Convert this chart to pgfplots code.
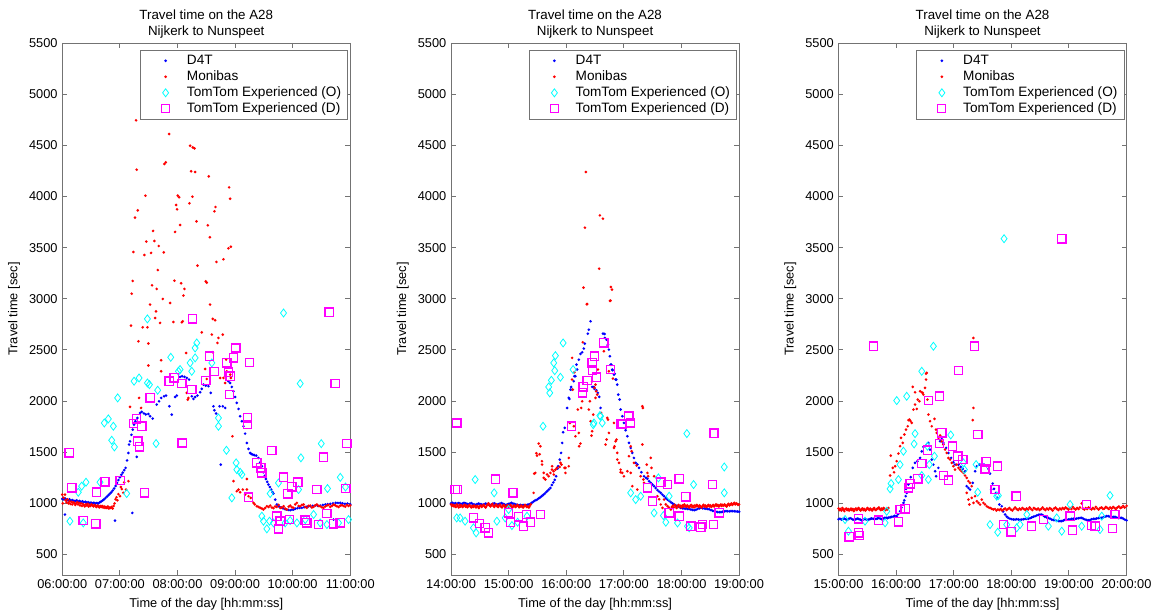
\documentclass[border=0pt]{standalone}
\usepackage{fontspec}
\setmainfont{Liberation Sans}
\usepackage{pgfplots}
\pgfplotsset{compat=1.18}
\definecolor{axgray}{gray}{0.45}
\definecolor{myblue}{RGB}{0,0,255}
\definecolor{myred}{RGB}{255,0,0}
\definecolor{mycyan}{RGB}{0,255,255}
\definecolor{mymag}{RGB}{255,0,255}
\newcommand{\fs}{\fontsize{9.6}{12.2}\selectfont}
\newcommand{\ft}{\fontsize{10}{12.2}\selectfont}
\newcommand{\fl}{\fontsize{10.2}{12.2}\selectfont}
\pgfdeclareplotmark{mdia}{\pgfsetstrokecolor{mycyan}\pgfsetlinewidth{0.6pt}\pgfpathmoveto{\pgfqpoint{0pt}{3pt}}\pgfpathlineto{\pgfqpoint{2.25pt}{0pt}}\pgfpathlineto{\pgfqpoint{0pt}{-3pt}}\pgfpathlineto{\pgfqpoint{-2.25pt}{0pt}}\pgfpathclose\pgfusepathqstroke}
\pgfdeclareplotmark{mbdot}{\pgfsetfillcolor{myblue}\pgfpathcircle{\pgfpointorigin}{1.1pt}\pgfusepathqfill}
\pgfdeclareplotmark{mrdot}{\pgfsetfillcolor{myred}\pgfpathcircle{\pgfpointorigin}{1.1pt}\pgfusepathqfill}
\pgfplotsset{
  legcode/.style={legend image code/.code={\path (0cm,0cm) (1.03cm,0cm); \draw[mark repeat=2,mark phase=2,##1] plot coordinates {(0cm,0cm)(0.55cm,0cm)(1.03cm,0cm)};}},
  d4t/.style={only marks, mark=mbdot, color=myblue, legcode},
  mon/.style={only marks, mark=mrdot, color=myred, legcode},
  tto/.style={only marks, mark=mdia, color=mycyan, legcode},
  ttd/.style={only marks, mark=none, color=mymag,
    nodes near coords={}, nodes near coords align=center,
    every node near coord/.style={draw=mymag, line width=1pt, minimum size=6.2pt, inner sep=0pt, anchor=center, shape=rectangle},
    legend image code/.code={\path (0pt,0pt) (29.2pt,0pt); \draw[mymag,line width=1pt] (12.6pt,-3pt) rectangle (18.6pt,3pt);}},
  panel/.style={
    scale only axis, width=216pt, height=399pt,
    xmin=0, xmax=300, ymin=300, ymax=5500,
    xtick={0,60,...,300}, ytick={500,1000,...,5500},
    tick align=inside, major tick length=3.6pt,
    axis line style={axgray, line width=0.7pt},
    every tick/.style={axgray, line width=0.7pt},
    tick label style={font=\fs, text=black},
    /pgf/number format/assume math mode=true,
    /pgf/number format/1000 sep={},
    scaled y ticks=false,
    title={Travel time on the A28\\Nijkerk to Nunspeet},
    title style={at={(0.5,1)}, anchor=south, yshift=-6pt, align=center, font=\ft},
    xlabel={Time of the day [hh:mm:ss]},
    ylabel={Travel time [sec]},
    label style={font=\fs},
    legend cell align=left,
    legend style={at={(1,1)}, anchor=north east, xshift=-1.5pt, yshift=-5pt,
      draw=axgray, line width=0.7pt, font=\fl, inner xsep=3pt, inner ysep=2pt,
      nodes={inner xsep=2pt, inner ysep=1.5pt, text height=7pt, text depth=2pt}},
  }
}
\begin{document}
\begin{tikzpicture}
\useasboundingbox (0,0) rectangle (868.5pt,458.25pt);
% ---------------- Panel 1 ----------------
\begin{axis}[panel, at={(46.7pt,27pt)}, anchor=south west,
  xticklabels={06:00:00,07:00:00,08:00:00,09:00:00,10:00:00,11:00:00}]
\addplot[d4t] coordinates {
(0,1044)(1.5,1040)(3,1047)(4.5,1036)(6,1030)(7.5,1040)(9,1028)(10.5,1032)(12,1026)(13.5,1022)(15,1030)(16.5,1018)(18,1024)(19.5,1015)(21,1020)(22.5,1012)(24,1016)(25.5,1008)(27,1012)(28.5,1004)(30,1008)(31.5,1000)(33,1006)(34.5,998)(36,1004)(37.5,1000)(39,1010)(40.5,1018)(42,1028)(43.5,1040)(45,1052)(46.5,1066)(48,1080)(49.5,1094)(51,1108)(52.5,1125)(54,1145)(55.5,1170)(57,1200)(58.5,1228)(60,1255)(61.5,1280)(63,1300)(64.5,1325)(66,1347)(67.5,1420)(68.9,1493)(69.6,1575)(70.6,1607)(72,1670)(73.4,1721)(74.8,1770)(76.2,1803)(78.2,1835)(81,1884)(82.8,1894)(85,1880)(87,1870)
(2.8,891)(54.9,832)(73,907)(77.6,1454)
(89.7,1874)(91.5,1852)(94.2,1829)(98.4,1966)(100.8,1998)(103,2031)(106,2047)(108.1,2054)(111.6,1949)(114,1868)(117.5,2040)(119.3,2054)(122.7,2236)(124.8,2243)(127.3,2236)(129.7,2226)(132.1,2210)(134.9,2047)(136.6,2021)(138.4,2040)(140.8,2054)(143.6,2086)(145.3,2119)(147.1,2161)(149.5,2151)(152.3,2145)(154.7,2080)(157.5,1949)(158.5,1910)(160.3,1878)(163.8,1949)(165.1,1379)(167.2,1949)(169.7,1933)(173.1,2194)(174.9,2177)(176.6,2138)(178.4,2096)(180.1,2040)(181.8,1982)(183.6,1923)(185.3,1852)(187.1,1803)(188.8,1754)(190.5,1682)(192.3,1591)(194,1532)(195.7,1493)(197,1482)(198.5,1477)(200,1472)(202,1467)(204.4,1444)(206.2,1402)(207.9,1363)(209.6,1304)(211,1270)(212.1,1239)(213.5,1210)(214.8,1184)(216.2,1160)(217.6,1135)(219,1110)(220,1096)(221.8,1037)(223.5,989)(225,975)(226.3,966)(228,960)(229.8,953)(231.5,945)(233.3,940)(235.5,936)(237.5,933)(239.3,938)(241,940)(243,948)(245.1,953)(247.4,955)(249.6,956)(252,962)(254.1,966)(256.2,970)(258.3,972)(261,976)(263.5,979)(266,977)(268.8,979)(271.5,985)(274,989)(276.5,992)(279.2,995)(282,1000)(284.8,1005)(287.2,1004)(289.6,1005)(292,1000)(294.5,996)(297,998)(300,990)(282.6,842)
};
\addlegendentry{D4T}
\addplot[mon] coordinates {
(0,1085)(0.5,1000)(1.5,1055)(2.8,1086)(3.5,1030)(4.5,1010)(5.5,1040)(6.5,1000)(7.5,1020)(8.5,995)(9.5,1015)(10.5,990)(11.5,1010)(12.5,1005)(13.5,985)(14.5,1000)(15.5,1012)(16.5,990)(17.5,1005)(18.5,980)(19.5,1000)(20.5,975)(21.5,995)(22.5,985)(23.5,970)(24.5,990)(25.5,980)(26.5,995)(27.5,970)(28.5,985)(29.5,975)(30.5,990)(31.5,980)(32.5,970)(33.5,985)(34.5,975)(35.5,965)(36.5,980)(37.5,970)(38.5,960)(39.5,975)(40.5,965)(41.5,975)(42.5,960)(43.5,970)(44.5,955)(45.5,965)(46.5,955)(47.5,970)(48.5,950)(49.5,960)(50.5,955)(51.5,965)(52.5,950)(53.5,975)(54.5,1000)(55.5,1040)(56.5,1060)(57.5,1030)(58.5,1090)(60.2,1070)(61,1160)(62,1140)(63.6,1103)(64.5,1205)(66.4,1135)(68.9,1217)
(70.6,1943)(71.6,2738)(72.3,3050)(73.4,3174)(74.1,3457)(75.8,3793)(76.9,4744)(77.5,4262)(78.6,3864)(79.3,2584)(80,2031)(82.1,1933)(83.8,2721)(85.5,3428)(86.6,4008)(87.6,3559)(88.7,2721)(89.7,2562)(89.7,2347)(91.5,2943)(92.5,3448)(93.5,3132)(94.6,3663)(96,3565)(96.7,2812)(97.7,2877)(98.4,3096)(99.5,3281)(100.5,3516)(101.9,2764)(103,2399)(103,2291)(104.7,2998)(105.7,3454)(106.4,4317)(107.8,4333)(111.3,4610)(112.3,2959)(115.8,2773)(116.8,3177)(117.5,3653)(118.6,3917)(119.6,3874)(120.3,4008)(121.7,3992)(122.7,3721)(123.8,3151)(124.5,2770)(125.5,2780)(126.2,3031)(127.3,3096)(129,2470)(129.7,2080)(130.7,2014)(131.4,2031)(132.5,3933)(133.2,4496)(134.2,4246)(135.6,3998)(135.9,4480)(137.7,4470)(138.4,4239)(139.8,3757)(140.8,3324)(145.3,2672)(148.8,2314)(149.5,3170)(150.5,3158)(150.5,2216)(151.6,3718)(152.6,4197)(153.7,3601)(154,2943)(155.8,2650)(156.8,2803)(156.8,2477)(158.5,3855)(159.2,2790)(159.6,3897)(160.6,3360)(161.7,2568)(162.7,2617)(164.4,2226)(167.2,2650)(167.9,2226)(167.9,3386)(169.7,2177)(170.7,2405)(171.4,2291)(173.1,3493)(173.8,4089)(174.9,3978)(175,2259)(175.6,3509)(175.6,2226)(177.3,1656)(178.4,1217)(181.8,1119)(183.6,1135)(185.3,1109)(188.1,1135)(190.5,1086)(192.3,1135)(192.3,1239)(194,1070)(196.4,1054)(199.2,1005)
(200.5,990)(202.7,972)(204.5,965)(206.2,956)(208,950)(209.6,940)(211.3,955)(213.1,972)(215,965)(216.6,979)(218.3,960)(220,953)(221.7,970)(223.5,966)(225.3,985)(227,956)(228.8,960)(230.5,972)(232.2,950)(234,940)(235.8,968)(237.5,979)(239.2,962)(240.9,956)(242.7,990)(244.4,1005)(246.2,975)(247.9,972)(249.7,985)(251.4,989)(253.1,965)(254.8,956)(256.5,975)(258.3,979)(260,960)(261.8,966)(263.5,980)(265.3,989)(267,975)(268.7,972)(270.5,962)(272.2,956)(274,970)(275.7,979)(277.4,985)(279.2,966)(281,975)(282.6,989)(284.4,980)(286.1,972)(287.9,965)(289.6,979)(291.3,982)(293,975)(294.8,968)(296.5,985)(298.2,975)(300,980)
};
\addlegendentry{Monibas}
\addplot[tto] coordinates {
(8,826)(16.7,1109)(20.2,1168)(21.9,809)(24.7,1207)(39.3,1207)(43.8,1786)(48,1826)(51.5,1617)(53.2,1754)(54.3,1552)(57.7,2031)(67.1,1096)(74.8,2194)(80,2226)(88.7,2803)(88.7,2177)(90.8,2161)(97.7,1585)(99.4,2106)(113,2428)(121,2291)(122.7,2308)(133.2,2373)(134.9,2291)(138.4,2422)(138.4,2519)(140.1,2568)(155.8,2373)(162.7,1835)(162.7,1754)(171,1519)(176.6,1054)(181.1,1396)(181.8,1330)(185.3,1304)(187.1,1282)(207.9,875)(209.6,826)(213.1,751)(215.9,826)(216.6,1096)(220,809)(225.2,1200)(230.5,2861)(232.2,809)(237.4,832)(244.4,809)(246.1,1135)(247.9,2171)(248.6,1445)(253.1,842)(261.8,891)(268.7,809)(269.8,1584)(275.7,793)(276.3,1145)(287.8,809)(289.6,1255)(295,1160)(298.2,842)
};
\addlegendentry{TomTom Experienced (O)}
\addplot[ttd] coordinates {
(7.3,1493)(10.1,1151)(21.9,832)(35.1,800)(35.8,1109)(44.5,1210)(60.2,1223)(74.1,1780)(77.5,1826)(78.6,1607)(80.3,1552)(82.8,1754)(85.5,1103)(91.5,2031)(111.3,2194)(116.5,2226)(124.5,2171)(124.9,1590)(134.9,2112)(135.6,2803)(149.5,2203)(153.3,2438)(158.2,2291)(171.4,2373)(173.1,2282)(174.2,2063)(174.9,2243)(178.4,2422)(180.8,2519)(193,1835)(193,1770)(194,1060)(195,2379)(202.7,1396)(206.9,1347)(207.9,1298)(218.3,1516)(223.5,875)(225.3,751)(227,826)(230.5,1255)(235,1093)(236.7,842)(239.2,1162)(245.4,1207)(253,835)(254.8,809)(265.2,1135)(267,793)(272.2,1451)(275.7,901)(278.1,2868)(282.6,800)(284.4,2171)(289.6,809)(295.5,1145)(296.5,1584)
};
\addlegendentry{TomTom Experienced (D)}
\end{axis}
% ---------------- Panel 2 ----------------
\begin{axis}[panel, at={(338.3pt,27pt)}, anchor=south west,
  xticklabels={14:00:00,15:00:00,16:00:00,17:00:00,18:00:00,19:00:00}]
\addplot[d4t] coordinates {
(0,1000)(1.5,1005)(3,998)(4.5,1002)(6,996)(7.5,1003)(9,1000)(10.5,994)(12,998)(13.5,1005)(15,1000)(16.5,996)(18,990)(19.5,998)(21,1003)(22.5,995)(24,990)(25.5,985)(27,992)(28.5,998)(30,995)(31.5,990)(33,986)(34.5,992)(36,998)(37.5,994)(39,988)(40.5,984)(42,990)(43.5,996)(45,1000)(46.5,994)(48,988)(49.5,992)(51,998)(52.5,1002)(54,996)(55.5,990)(57,984)(58.5,990)(60,995)(61.5,1000)(63,1005)(64.5,998)(66,994)(67.5,990)(69,986)(70.5,982)(72,986)(73.5,980)(75,984)(76.5,978)(78,982)(79.5,986)(81,990)(82.5,996)(84,1005)(85.5,1015)(87,1025)(88.5,1033)(90,1040)(91.5,1050)(93,1060)(94.5,1072)(96,1083)(97.5,1095)(99,1110)(100.5,1122)(102,1136)(103.5,1151)(105,1180)(106.5,1205)(108,1230)(109.5,1265)(111,1340)(111.5,1363)(113.2,1428)(114.6,1493)(115.7,1591)(116.7,1695)(118.4,1738)(120.9,1933)(122.6,2031)(123.3,2021)(124.4,2112)(125.1,2138)(126.1,2112)(127.8,2194)(128.5,2243)(129.6,2243)(130.6,2356)(131.3,2308)(133.1,2405)(134.8,2461)(136.6,2477)(138.3,2513)(139.3,2562)(142.5,2659)(143.5,2698)(145.3,2780)(147,2138)(148.8,2138)(149.4,2119)(151.5,2106)(152.9,2080)(154.3,2041)(155.7,1933)(158.2,2659)(159.9,2656)(160.3,2617)(162,2600)(162.7,2536)(163.4,2552)(164.4,2503)(165.5,2438)(166.2,2356)(166.9,2357)(167.9,2308)(168.3,2301)(169.7,2259)(170.4,2268)(171.4,2210)(172.1,2210)(173.1,2161)(174.2,2063)(175.6,2015)(176.6,1917)(178.4,1852)(180.1,1786)(181.8,1715)(183.6,1656)(185.3,1591)(187.1,1542)(188.8,1493)(190.5,1444)(192.3,1396)(194,1380)(195.8,1347)(198.2,1304)(201,1265)(203,1250)(204.5,1240)(206.3,1217)(208,1200)(209.7,1185)(211.5,1168)(213.2,1150)(215,1130)(216.7,1115)(218.4,1103)(220.2,1085)(221.9,1070)(223.6,1052)(225.4,1037)(227.2,1025)(228.9,1012)(230.6,1000)(232.4,989)(234.1,980)(235.8,972)(237.6,965)(239.3,956)(241,952)(242.8,950)(244.5,948)(246.3,946)(248,944)(249.8,940)(251.5,936)(253.3,933)(255,938)(256.7,945)(258.5,950)(260.2,956)(262,952)(263.7,950)(265.4,948)(267.2,946)(268.9,942)(270.7,935)(272.4,928)(274.2,923)(275.9,918)(277.6,915)(279.4,914)(281.2,914)(282.9,918)(284.6,922)(286.4,924)(288.1,923)(289.9,922)(291.6,924)(293.3,924)(295.1,923)(296.8,921)(298.5,920)(300,918)
};
\addlegendentry{D4T}
\addplot[mon] coordinates {
(0,990)(1,975)(2,985)(3,970)(4,980)(5,965)(6,990)(7,975)(8,960)(9,985)(10,970)(11,980)(12,965)(13,975)(14,985)(15,968)(16,978)(17,962)(18,975)(19,985)(20,970)(21,960)(22,975)(23,965)(24,980)(25,970)(26,960)(27,975)(28,968)(29,955)(30,972)(31,980)(32,965)(33,975)(34,985)(35,970)(36,960)(37,975)(38,990)(39,1000)(40,980)(41,970)(42,985)(43,995)(44,975)(45,965)(46,980)(47,990)(48,972)(49,965)(50,978)(51,988)(52,970)(53,960)(54,975)(55,985)(56,970)(57,962)(58,975)(59,982)(60,968)(61,975)(62,985)(63,970)(64,960)(65,975)(66,980)(67,965)(68,972)(69,985)(70,975)(71,962)(72,970)(73,980)(74,968)(75,960)(76,972)(77,985)(78,975)(79,965)(80,970)(81,960)(82,975)(83,990)
(86,1103)(86.7,1291)(87.8,1298)(88.8,1490)(89.5,1467)(91.3,1585)(92.3,1480)(93,1558)(94.7,1412)(94.8,1379)(96.5,1249)(96.5,1298)(98.2,1233)(100,1282)(101.7,1265)(103.5,1298)(105.2,1363)(105.2,1330)(106.9,1314)(107,1282)(108.7,1330)(110.4,1347)(113.2,1356)(113.9,1396)(115,1379)(118.1,1347)(119.1,1298)(119.2,1347)(122.6,1363)(122.6,1444)(123.7,1786)(126.1,2422)(126.1,2210)(126.8,2112)(127.9,1754)(128.5,2282)(129.6,1656)(132,1917)(133.1,1689)(133.4,1558)(134.8,1585)(135.5,1933)(136.6,1998)(137.2,2575)(138,3109)(139.4,3695)(140.4,4239)(141.5,2946)(141.8,2949)(143.5,1917)(144.6,1998)(145.3,1803)(146.3,1663)(147,1705)(147,2194)(148.1,1868)(149.4,2129)(150.5,2031)(150.5,2161)(151.2,2096)(152.2,2063)(153,2308)(154.3,3294)(155,3815)(156.4,1884)(158.2,3783)(159.2,2487)(160.9,1575)(162,1624)(162.7,1835)(163.5,1819)(164.4,1689)(164.4,2291)(165.5,2979)(166,2982)(166.5,3115)(167.6,3089)(168.6,2220)(169.7,1786)(169.7,1542)(170.3,1558)(171.4,1607)(172.4,1624)(173.1,1493)(173.2,1428)(174.9,1396)(176.6,1304)(176.6,1330)(178.4,1298)(180.1,1265)(183.6,1314)(185.3,1461)(187.1,1558)(187.1,1298)(188.1,1510)(188.8,1168)(190.5,1396)(193.3,1369)(194,1135)(197.5,1265)(199.3,1949)(199.8,1933)(199.3,1575)(200.3,1233)(201,1200)(203.8,1379)(204.5,1298)(205.2,1265)(208,1444)(208.7,1347)(211.5,1265)(215,1070)(216.7,1040)(218.4,989)(220.2,956)(221.9,1037)(223.6,990)(225.4,973)(227,960)(228.9,940)
(230,965)(231,975)(232,960)(233,985)(234,970)(235,955)(236,975)(237,985)(238,965)(239,975)(240,960)(241,980)(242,970)(243,990)(244,975)(245,965)(246,980)(247,970)(248,960)(249,975)(250,985)(251,965)(252,975)(253,960)(254,980)(255,970)(256,985)(257,975)(258,965)(259,980)(260,970)(261,960)(262,975)(263,985)(264,970)(265,978)(266,965)(267,975)(268,985)(269,970)(270,980)(271,965)(272,975)(273,985)(274,970)(275,980)(276,990)(277,975)(278,985)(279,970)(280,980)(281,990)(282,975)(283,985)(284,978)(285,990)(286,980)(287,970)(288,985)(289,995)(290,980)(291,990)(292,1000)(293,985)(294,995)(295,1005)(296,990)(297,1000)(298,995)(299,985)(300,990)
};
\addlegendentry{Monibas}
\addplot[tto] coordinates {
(5.9,858)(9.4,858)(14.6,826)(23.3,761)(25.1,1233)(26.1,712)(44.9,1103)(47.7,826)(56.4,858)(59.9,940)(63.4,783)(69.3,816)(79.1,875)(95.8,1754)(101.7,2138)(102.8,2080)(104.5,2203)(106.9,2373)(108,2298)(108.7,2444)(113.9,2233)(116.7,2568)(127.1,2308)(148.1,1770)(148.8,1786)(155,1858)(155.7,1852)(157.5,1786)(187.1,1103)(192.3,1037)(197.5,1070)(211.5,907)(216,1249)(221.2,881)(223.7,816)(227.2,1070)(235.9,809)(245.6,1682)(246.3,777)(248.1,761)(252.6,1184)(284.6,1356)(284.6,1103)
};
\addlegendentry{TomTom Experienced (O)}
\addplot[ttd] coordinates {
(4.2,1135)(5.9,1786)(6.6,1135)(23.3,858)(29.6,803)(35.5,761)(39,712)(46.3,1238)(59.9,907)(61.7,816)(64.5,1103)(70.4,868)(75.6,777)(78.4,891)(82.6,816)(93,891)(125.4,1754)(136.9,2080)(137.6,2138)(141.8,2200)(147,2373)(147.4,2301)(149.4,2438)(151.5,2233)(159.2,2568)(166.2,2308)(177.3,1776)(178.4,1770)(185.3,1852)(187.1,1786)(204.5,1151)(209.7,1021)(218.4,1207)(225.4,1184)(227.2,907)(237.6,1239)(237.6,875)(244.6,1063)(249.8,777)(260.2,767)(262,793)(272.4,1184)(273.9,1686)(273.5,793)(279.4,907)
};
\addlegendentry{TomTom Experienced (D)}
\end{axis}
% ---------------- Panel 3 ----------------
\begin{axis}[panel, at={(628.9pt,27pt)}, anchor=south west,
  xticklabels={15:00:00,16:00:00,17:00:00,18:00:00,19:00:00,20:00:00}]
\addplot[d4t] coordinates {
(0,845)(1.5,850)(3,842)(4.5,848)(6,852)(7.5,845)(9,840)(10.5,848)(12,855)(13.5,850)(15,842)(16.5,838)(18,845)(19.5,852)(21,848)(22.5,842)(24,835)(25.5,840)(27,848)(28.5,845)(30,838)(31.5,842)(33,848)(34.5,852)(36,850)(37.5,845)(39,848)(40.5,852)(42,856)(43.5,850)(45,846)(46.5,852)(48,858)(49.5,860)(51,856)(52.5,862)(54,865)(55.5,868)(57,872)(58.5,878)(60.6,875)(62,895)(64.1,923)(65.5,960)(67.6,1005)(68.5,1030)(70,1070)(70.3,1142)(71,1103)(72.8,1184)(75.2,1256)(77.3,1347)(79.7,1396)(82.1,1412)(84.9,1444)(86.7,1509)(88.4,1552)(91.2,1565)(93.6,1591)(95.3,1526)(97.1,1428)(98.8,1379)(100.6,1314)(101.6,1265)(104,1347)(105.8,1607)(107.5,1640)(109.2,1591)(112,1542)(114.4,1493)(117.2,1444)(119.6,1402)(121.4,1379)(124.9,1379)(127.3,1357)(129.4,1337)(131.8,1314)(133.5,1168)(135.3,1151)(137,1135)(139.8,1200)(142.2,1314)(144,1363)(146.7,1379)(149.2,1386)(151.6,1379)(154.4,1363)(156.1,1337)(157.8,1291)(159,1135)(160.6,1194)(162,1142)(164.1,1103)(165.5,1054)(167.6,989)(170,972)(171.5,920)(173.5,891)(175.2,870)(176.9,858)(178.6,850)(180.4,845)(182.1,842)(183.9,842)(185.6,845)(187.3,842)(189.1,840)(190.8,842)(192.5,845)(194.3,848)(196,849)(197.8,849)(199.5,855)(201.2,862)(203,870)(204.7,875)(206.5,882)(208.2,888)(209.9,891)(211.7,891)(213.4,880)(215.1,868)(216.9,862)(218.6,858)(220.3,850)(222.1,842)(223.8,838)(225.5,835)(227.3,830)(229,828)(230.7,826)(232.5,826)(234.2,832)(235.9,838)(237.7,840)(239.4,842)(241.1,845)(242.9,849)(244.6,850)(246.4,849)(248.1,852)(249.8,855)(251.6,858)(253.3,858)(255,850)(256.8,842)(258.5,838)(260.3,835)(262,838)(263.7,845)(265.5,849)(267.2,849)(268.9,852)(270.7,856)(272.4,858)(274.2,858)(275.9,865)(277.6,870)(279.4,875)(281.1,875)(282.8,870)(284.6,868)(286.3,868)(288,868)(289.8,862)(291.5,858)(293.2,858)(295,858)(296.7,850)(298.4,840)(300,835)
};
\addlegendentry{D4T}
\addplot[mon] coordinates {
(0,950)(1,935)(2,945)(3,930)(4,955)(5,940)(6,925)(7,945)(8,950)(9,935)(10,945)(11,930)(12,940)(13,950)(14,935)(15,945)(16,925)(17,940)(18,950)(19,935)(20,945)(21,955)(22,940)(23,930)(24,945)(25,950)(26,935)(27,945)(28,930)(29,940)(30,955)(31,945)(32,935)(33,950)(34,940)(35,930)(36,945)(37,955)(38,940)(39,935)(40,945)(41,950)(42,960)(43,945)(44,935)(45,950)(46,940)(47,955)(48,945)(49,935)(50,950)(51,940)(52,955)
(53.7,1272)(54.4,1467)(56.5,1347)(57.8,1304)(58.9,1363)(60.6,1412)(62.4,1487)(64.1,1559)(65.1,1640)(66.9,1591)(68.6,1673)(70.3,1721)(72.1,1754)(72.8,1813)(73.8,1819)(75,1805)(76.2,1787)(77.3,2138)(78,1917)(79.7,1966)(79.7,2086)(81.5,1923)(82.5,2015)(84.2,1998)(84.9,2096)(86.7,2086)(87.7,2080)(88.4,2063)(90.1,2129)(91.2,2210)(91.2,2268)(91.9,2275)(92.6,2015)(93.6,1868)(95.3,1803)(97.1,1754)(99.9,1826)(101.6,1721)(102.3,1689)(104,1640)(105.8,1663)(107.5,1607)(109.2,1575)(111,1526)(112.7,1493)(114.4,1444)(116.2,1428)(117.9,1396)(119.6,1363)(121.4,1330)(123.1,1379)(124.9,1347)(126.6,1330)(128.3,1314)(130.1,1298)(131.8,1272)(133.5,1249)(133.5,1103)(135.3,1217)(135.3,1037)(136.3,989)(137,1200)(138.7,1168)(138.7,1054)(139.8,1813)(140.5,1933)(140.5,2617)(140.5,1005)(142.2,1070)(144,1021)(145.7,1005)(147.4,989)(149.2,1037)(150.9,1005)(152.6,990)(154.4,972)(156,962)(157.8,956)(159.5,948)(161.3,940)
(163,945)(164.5,930)(166,940)(167.5,935)(169,945)(170.5,930)(172,940)(173.5,950)(175,935)(176.5,945)(178,955)(179.5,940)(181,930)(182.5,945)(184,960)(185.5,945)(187,935)(188.5,950)(190,940)(191.5,955)(193,945)(194.5,935)(196,950)(197.5,940)(199,960)(200.5,945)(202,935)(203.5,955)(205,945)(206.5,940)(208,950)(209.5,935)(211,945)(212.5,960)(214,945)(215.5,935)(217,950)(218.5,940)(220,955)(221.5,945)(223,930)(224.5,950)(226,960)(227.5,945)(229,935)(230.5,950)(232,940)(233.5,955)(235,945)(236.5,960)(238,950)(239.5,940)(241,955)(242.5,945)(244,965)(245.5,950)(247,940)(248.5,955)(250,945)(251.5,960)(253.3,1000)(254.5,950)(256,940)(257.5,955)(259,945)(260.5,960)(262,950)(263.5,940)(265,955)(266.5,945)(268,965)(269.5,950)(271,940)(272.5,955)(274,960)(275.5,945)(277,950)(278.5,965)(280,955)(281.5,945)(283,960)(284.5,950)(286,965)(287.5,955)(289,945)(290.5,960)(292,970)(293.5,955)(295,960)(296.5,975)(298,960)(300,975)
};
\addlegendentry{Monibas}
\addplot[tto] coordinates {
(6.8,842)(10.3,728)(27.6,826)(48.5,810)(50.2,923)(53.7,1142)(54.7,1194)(62.4,1233)(64.1,1379)(67.6,1510)(60.6,2005)(71,2047)(78.7,1581)(79.7,1682)(86.7,2291)(86.7,1272)(92.6,1559)(93.6,1233)(94.6,1379)(98.8,2536)(99.9,1461)(116.9,1669)(130.1,1396)(131.1,1330)(143.3,1379)(145,1109)(157.8,793)(164.8,1070)(165.8,718)(166.5,1077)(172.4,3587)(175.2,793)(185.6,761)(189.1,793)(196.1,891)(218.6,777)(227.3,858)(232.5,728)(241.2,989)(253.3,777)(272.4,744)(274.2,875)(282.8,1077)
};
\addlegendentry{TomTom Experienced (O)}
\addplot[ttd] coordinates {
(11,673)(20.7,712)(21.4,686)(20.7,849)(36.3,2536)(41.5,835)(62.4,819)(64.1,940)(69.3,946)(72.8,1151)(74.5,1190)(82.5,1239)(86.7,1389)(92.6,1519)(93.6,2005)(105.1,2047)(105.1,1585)(107.5,1689)(109.2,1272)(114.4,1226)(118.6,1559)(124.2,1461)(124.9,2298)(129.4,1428)(141.5,2536)(145,1673)(152.6,1337)(153.7,1405)(163,1135)(165.5,1363)(171.7,793)(179.7,722)(184.9,1070)(201.2,777)(213.4,842)(232.5,3587)(241.2,875)(243.9,738)(258.5,989)(263.7,783)(267.2,777)(285.3,754)(288,891)
};
\addlegendentry{TomTom Experienced (D)}
\end{axis}
\end{tikzpicture}
\end{document}
